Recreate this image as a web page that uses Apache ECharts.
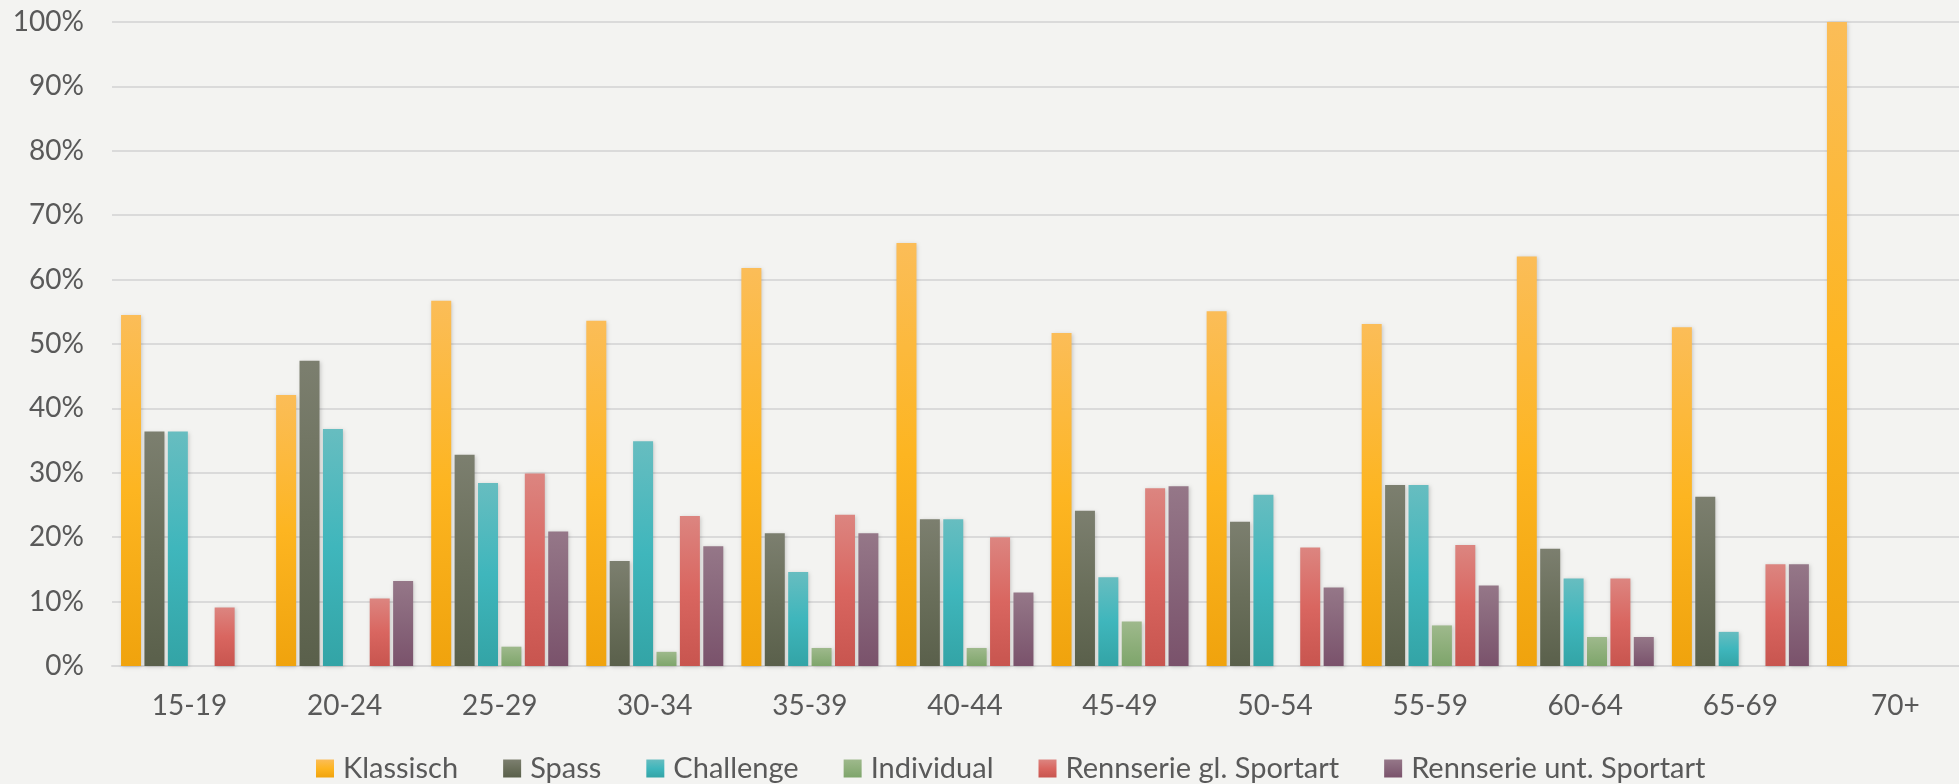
<!DOCTYPE html>
<html>
<head>
<meta charset="utf-8">
<script src="https://cdn.jsdelivr.net/npm/echarts@6/dist/echarts.min.js"></script>
<style>
html,body{margin:0;padding:0;background:#f3f3f1;}
#chart{width:1959px;height:784px;}
</style>
</head>
<body>
<div id="chart"></div>
<script>
const categories = ['15-19','20-24','25-29','30-34','35-39','40-44','45-49','50-54','55-59','60-64','65-69','70+'];
const seriesNames = ['Klassisch','Spass','Challenge','Individual','Rennserie gl. Sportart','Rennserie unt. Sportart'];
const klassisch = [54.5, 42.1, 56.7, 53.6, 61.8, 65.7, 51.7, 55.1, 53.1, 63.6, 52.6, 100];
const spass     = [36.4, 47.4, 32.8, 16.3, 20.6, 22.8, 24.1, 22.4, 28.1, 18.2, 26.3, null];
const challenge = [36.4, 36.8, 28.4, 34.9, 14.6, 22.8, 13.8, 26.6, 28.1, 13.6, 5.3, null];
const individual= [null, null, 3.0, 2.2, 2.8, 2.8, 6.9, null, 6.3, 4.5, null, null];
const rennGl    = [9.1, 10.5, 29.9, 23.3, 23.5, 20.0, 27.6, 18.4, 18.8, 13.6, 15.8, null];
const rennUnt   = [null, 13.2, 20.9, 18.6, 20.6, 11.4, 27.9, 12.2, 12.5, 4.5, 15.8, null];
const yTicks = [0,10,20,30,40,50,60,70,80,90,100];

const gradients = [
  ['#fbbd58','#fdb521','#f0a30d'],
  ['#7c7f6f','#6a6f5b','#5a604b'],
  ['#67bdc0','#3fb6bc','#33a4a6'],
  ['#9eb98c','#8eaf7b','#7ea56b'],
  ['#dc8580','#d96660','#c8554f'],
  ['#957788','#87657a','#7a526b']
];
function grad(c){
  return new echarts.graphic.LinearGradient(0,0,0,1,[
    {offset:0,color:c[0]},{offset:0.5,color:c[1]},{offset:1,color:c[2]}
  ]);
}
const seriesData = [klassisch, spass, challenge, individual, rennGl, rennUnt];
const FONT = 'Lato';

const chart = echarts.init(document.getElementById('chart'), null, {renderer:'canvas'});
chart.setOption({
  backgroundColor:'#f3f3f1',
  animation:false,
  grid:{left:112, right:-14, top:22, bottom:118, containLabel:false, outerBoundsMode:'none'},
  legend:{
    left:311, top:749,
    itemWidth:18, itemHeight:18, itemGap:45,
    icon:'rect',
    textStyle:{fontFamily:FONT, fontSize:29, color:'#595959', padding:[0,0,0,4]},
    data:seriesNames
  },
  xAxis:{
    type:'category',
    data:categories,
    axisLine:{show:true, lineStyle:{color:'#d8d8d8', width:2}},
    axisTick:{show:false},
    axisLabel:{fontFamily:FONT, fontSize:28, color:'#595959', margin:26}
  },
  yAxis:{
    type:'value',
    min:0, max:100, interval:10,
    axisLine:{show:false},
    axisTick:{show:false},
    splitLine:{lineStyle:{color:'#dadada', width:2}},
    axisLabel:{fontFamily:FONT, fontSize:28, color:'#595959', margin:28,
      formatter:function(v){ return yTicks.indexOf(v) >= 0 ? v + '%' : ''; }}
  },
  series: seriesNames.map(function(name,i){
    return {
      name:name,
      type:'bar',
      data:seriesData[i],
      barWidth:20,
      barGap:'17%',
      itemStyle:{color:grad(gradients[i]), shadowBlur:4, shadowColor:'rgba(0,0,0,0.18)', shadowOffsetX:1, shadowOffsetY:1}
    };
  })
});
</script>
</body>
</html>
